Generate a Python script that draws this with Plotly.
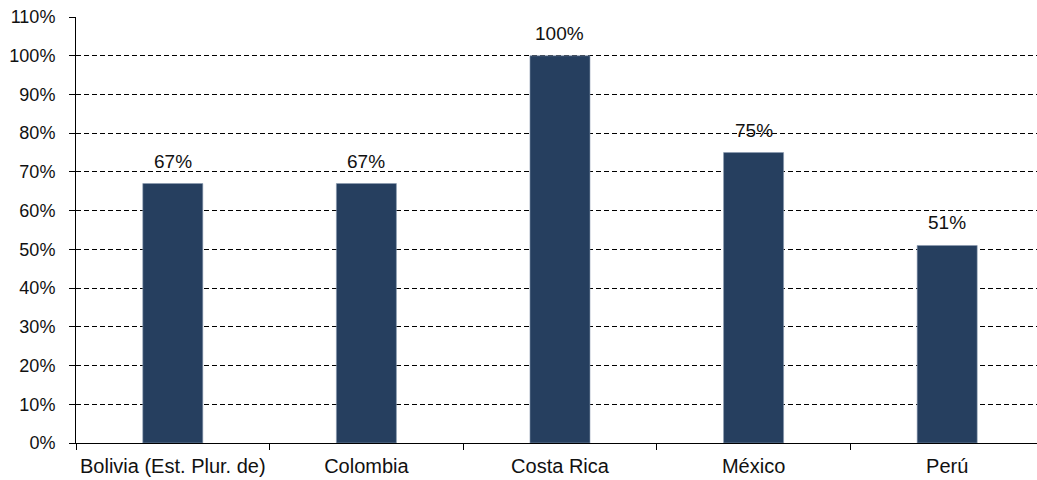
import plotly.graph_objects as go

# Country categories and the share shown for each one (percent)
countries = ["Bolivia (Est. Plur. de)", "Colombia", "Costa Rica", "México", "Perú"]
shares = [67, 67, 100, 75, 51]
value_labels = ["67%", "67%", "100%", "75%", "51%"]

bar_color = "#263f5f"
font_family = "Liberation Sans, Arial, sans-serif"

fig = go.Figure()
fig.add_trace(go.Bar(
    x=countries,
    y=shares,
    width=0.31,
    marker=dict(color=bar_color, line=dict(color="#8a9bb0", width=0.6)),
    hoverinfo="x+y",
))

# Value labels sitting a little above each bar
for c, v, t in zip(countries, shares, value_labels):
    fig.add_annotation(
        x=c, y=v, text=t, showarrow=False,
        yanchor="bottom", yshift=10,
        font=dict(family=font_family, size=19, color="#111111"),
    )

fig.update_layout(
    width=1037, height=480,
    margin=dict(l=76, r=0, t=17, b=37, autoexpand=False),
    paper_bgcolor="white", plot_bgcolor="white",
    font=dict(family=font_family, size=19, color="#111111"),
    showlegend=False,
)
fig.update_xaxes(
    type="category",
    range=[-0.5, 4.464],
    tickson="boundaries",
    tickangle=0,
    automargin=False,
    ticks="outside", ticklen=6, tickcolor="black", tickwidth=1,
    ticklabelstandoff=5,
    showline=True, linecolor="black", linewidth=1,
    showgrid=False,
    tickfont=dict(size=20),
)
fig.update_yaxes(
    range=[0, 110],
    dtick=10,
    ticksuffix="%",
    automargin=False,
    ticks="outside", ticklen=6, tickcolor="black", tickwidth=1,
    ticklabelstandoff=10,
    showline=True, linecolor="black", linewidth=1,
    showgrid=True, gridcolor="black", gridwidth=1, griddash="5px,3px",
    zeroline=False,
    tickfont=dict(size=18),
)

fig.write_html("out.html")
